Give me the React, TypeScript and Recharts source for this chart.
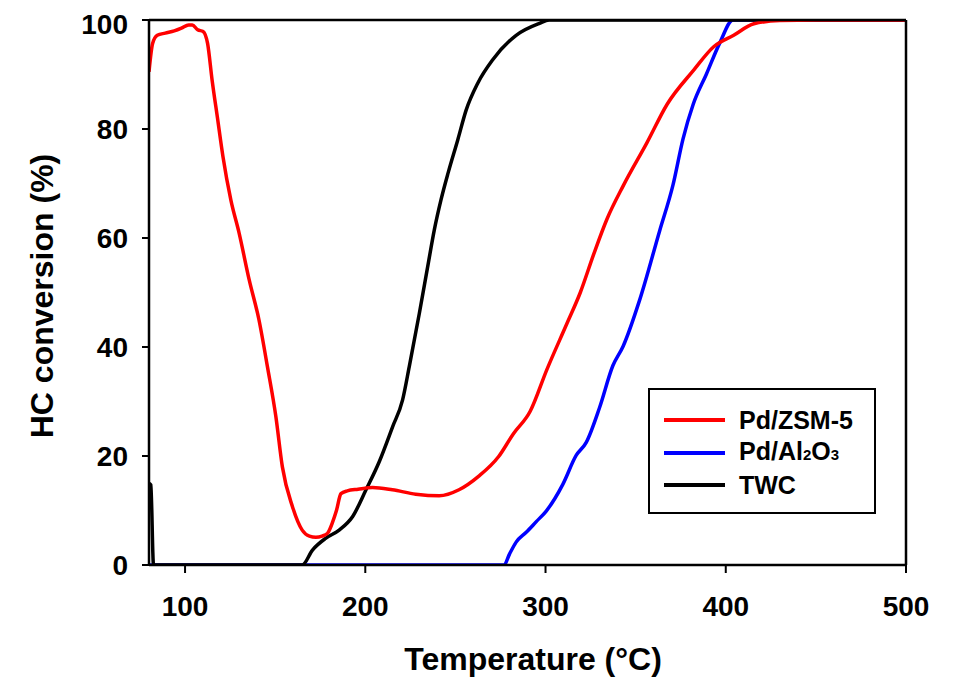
import { LineChart, Line, XAxis, YAxis, Legend, ReferenceLine } from "recharts";

const FONT = '"Liberation Sans", Arial, Helvetica, sans-serif';

// Pd/ZSM-5 (red)
const zsmTemp = [
  80, 82, 84.6, 89, 94, 98, 102, 104, 107, 110, 112.5, 115, 118, 121, 125.4,
  130, 135.6, 141, 145.7, 150.4, 154, 159.6, 165, 169, 172.6, 176, 179, 182,
  184, 186.5, 190, 196, 204, 215, 228, 241, 252, 263, 274, 282, 291.5, 300.8,
  312, 319.3, 326.7, 334, 343.3, 356.3, 367.4, 382.2, 393.3, 404.4, 415.6, 430,
  450, 500,
];
const zsmConv = [
  90.5, 95.7, 97.2, 97.6, 98, 98.5, 99.1, 99.1, 98.2, 97.9, 95.7, 89, 82, 75,
  67, 60.9, 52.3, 45, 36.4, 27.2, 18, 10.7, 6.4, 5.3, 5.1, 5.3, 5.8, 8, 10,
  13.1, 13.6, 13.9, 14.2, 13.8, 13, 12.7, 13.8, 16.3, 19.9, 24, 28.2, 35.9,
  44.4, 50, 57, 63.4, 69.7, 77.5, 84.5, 90.8, 95.1, 97.2, 99.3, 99.9, 100, 100,
];

// Pd/Al2O3 (blue)
const alTemp = [
  80, 277, 280, 283.7, 289.3, 295, 300.4, 309.6, 317, 322.6, 330, 337.4, 343,
  352.2, 363.3, 370.7, 376.3, 381.9, 389.3, 396.7, 404, 500,
];
const alConv = [
  0, 0, 2, 4.2, 6, 8, 9.9, 14.8, 20.1, 22.5, 28.9, 36.6, 40.1, 48.6, 61.3,
  69.7, 78.2, 84.5, 90.1, 95.8, 100, 100,
];

// TWC (black)
const twcTemp = [
  80, 81, 82.5, 165, 170.7, 178, 185.5, 193, 200.4, 207.8, 215.2, 220.7, 224.4,
  230, 234.6, 238.3, 242, 246, 251.3, 256, 262.4, 270.7, 283.7, 296.7, 302,
  500,
];
const twcConv = [
  15, 14.7, 0, 0, 2.75, 4.9, 6.4, 8.9, 13.8, 19, 25.4, 30.3, 36.4, 46.2, 54.7,
  61.5, 67, 72, 78, 83.5, 88.4, 92.7, 97.2, 99.4, 100, 100,
];

const tempTicks = [100, 200, 300, 400, 500];
const convTicks = [0, 20, 40, 60, 80, 100];

const toPoints = (t: number[], v: number[]) =>
  t.map((temp, i) => ({ temp, conv: v[i] }));

const legendRows = [
  { key: "zsm", color: "#ff0000", label: <>Pd/ZSM-5</> },
  {
    key: "al",
    color: "#0000ff",
    label: (
      <>
        Pd/Al<span style={{ fontSize: 15 }}>2</span>O
        <span style={{ fontSize: 15 }}>3</span>
      </>
    ),
  },
  { key: "twc", color: "#000000", label: <>TWC</> },
];

const LegendBox = () => (
  <div
    style={{
      width: 228,
      height: 126,
      boxSizing: "border-box",
      border: "2px solid #000",
      background: "#fff",
      padding: "14px 0 0 14px",
      fontFamily: FONT,
      fontWeight: 700,
      fontSize: 25,
      color: "#000",
    }}
  >
    {legendRows.map((r) => (
      <div
        key={r.key}
        style={{ display: "flex", alignItems: "center", height: 32.5 }}
      >
        <div
          style={{ width: 61, height: 4, background: r.color, marginRight: 14 }}
        />
        <div style={{ lineHeight: "32px" }}>{r.label}</div>
      </div>
    ))}
  </div>
);

const tickStyle = { fill: "#000", fontSize: 28, fontWeight: 700, fontFamily: FONT };

export default function App() {
  return (
    <LineChart
      width={938}
      height={675}
      margin={{ top: 12, right: 40, left: 0, bottom: 0 }}
    >
      <XAxis
        type="number"
        dataKey="temp"
        domain={[80, 500]}
        ticks={tempTicks}
        allowDataOverflow
        height={118}
        tickSize={8}
        tickMargin={23}
        tick={tickStyle}
        axisLine={{ stroke: "#000", strokeWidth: 2.5 }}
        tickLine={{ stroke: "#000", strokeWidth: 2 }}
        label={{
          content: () => (
            <text
              x={525}
              y={662}
              textAnchor="middle"
              fontFamily={FONT}
              fontWeight={700}
              fontSize={32}
              fill="#000"
            >
              Temperature (°C)
            </text>
          ),
        }}
      />
      <YAxis
        type="number"
        dataKey="conv"
        domain={[0, 100]}
        ticks={convTicks}
        allowDataOverflow
        width={141}
        tickSize={7}
        tickMargin={14}
        tick={tickStyle}
        axisLine={{ stroke: "#000", strokeWidth: 2.5 }}
        tickLine={{ stroke: "#000", strokeWidth: 2 }}
        label={{
          content: () => (
            <text
              x={45}
              y={288}
              transform="rotate(-90 45 288)"
              textAnchor="middle"
              fontFamily={FONT}
              fontWeight={700}
              fontSize={32}
              fill="#000"
            >
              HC conversion (%)
            </text>
          ),
        }}
      />
      <Line
        data={toPoints(alTemp, alConv)}
        dataKey="conv"
        name="Pd/Al2O3"
        type="monotone"
        stroke="#0000ff"
        strokeWidth={3.5}
        dot={false}
        isAnimationActive={false}
      />
      <Line
        data={toPoints(twcTemp, twcConv)}
        dataKey="conv"
        name="TWC"
        type="monotone"
        stroke="#000000"
        strokeWidth={3.5}
        dot={false}
        isAnimationActive={false}
      />
      <Line
        data={toPoints(zsmTemp, zsmConv)}
        dataKey="conv"
        name="Pd/ZSM-5"
        type="monotone"
        stroke="#ff0000"
        strokeWidth={3.5}
        dot={false}
        isAnimationActive={false}
      />
      <ReferenceLine y={100} stroke="#000" strokeWidth={2.5} />
      <ReferenceLine x={500} stroke="#000" strokeWidth={2.5} />
      <Legend
        layout="horizontal"
        verticalAlign="middle"
        align="center"
        content={() => <LegendBox />}
        wrapperStyle={{ position: "absolute", left: 640, top: 380, width: 228, height: 126 }}
      />
    </LineChart>
  );
}
